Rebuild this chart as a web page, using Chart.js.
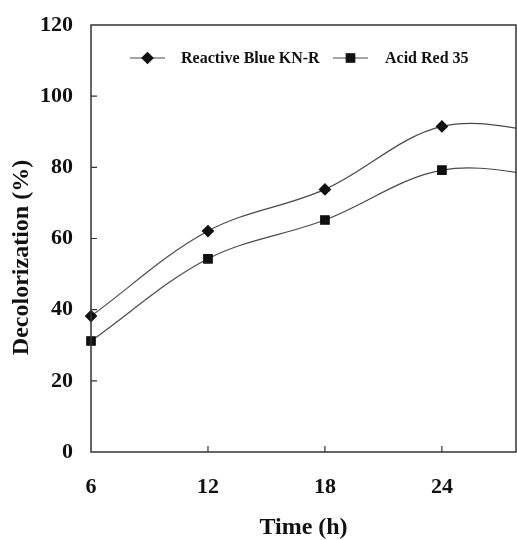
<!DOCTYPE html>
<html lang="en">
<head>
  <meta charset="UTF-8">
  <title>Decolorization vs time</title>
  <script src="https://cdn.jsdelivr.net/npm/chart.js"></script>
  <style>
    html, body { margin: 0; padding: 0; background: #fff; overflow: hidden; }
    #wrap { width: 517px; height: 540px; }
  </style>
</head>
<body>
  <div id="wrap"><canvas id="canvas_grafico"></canvas></div>
  <script>
    // hours sampled (last one lies past the visible right edge)
    const tempos = [6, 12, 18, 24, 30];
    const blueKNR = [38.2, 62.1, 73.8, 91.5, 89.5];
    const acidRed35 = [31.2, 54.3, 65.2, 79.2, 77.2];
    const yTicks = [0, 20, 40, 60, 80, 100, 120];
    const xTicks = [6, 12, 18, 24];

    const fonte = 'Liberation Serif, Times New Roman, serif';
    const corLinha = '#4a4a4a';
    const corEixo = '#333';

    function pontos(xs, ys) {
      return xs.map((x, i) => ({ x: x, y: ys[i] }));
    }

    // box + inside tick marks + y title
    const moldura = {
      id: 'moldura',
      afterDatasetsDraw(chart) {
        const { ctx, chartArea: a, scales } = chart;
        ctx.save();
        ctx.strokeStyle = corEixo;
        ctx.lineWidth = 1.5;
        ctx.strokeRect(a.left, a.top, a.right - a.left, a.bottom - a.top);
        ctx.lineWidth = 1.2;
        ctx.beginPath();
        xTicks.forEach(v => {
          const px = scales.x.getPixelForValue(v);
          if (px > a.left + 2) { ctx.moveTo(px, a.bottom); ctx.lineTo(px, a.bottom - 6); }
        });
        yTicks.forEach(v => {
          const py = scales.y.getPixelForValue(v);
          if (py > a.top + 2 && py < a.bottom - 2) { ctx.moveTo(a.left, py); ctx.lineTo(a.left + 6, py); }
        });
        ctx.stroke();

        // y axis title, a bit below the plot centre as in the original
        ctx.translate(22, (a.top + a.bottom) / 2 + 19);
        ctx.rotate(-Math.PI / 2);
        ctx.fillStyle = '#111';
        ctx.font = 'bold 24px ' + fonte;
        ctx.textAlign = 'center';
        ctx.textBaseline = 'middle';
        ctx.fillText('Decolorization (%)', 0, 0);
        ctx.restore();
      }
    };

    // legend drawn in one row inside the plot
    const legenda = {
      id: 'legenda',
      afterDraw(chart) {
        const { ctx } = chart;
        const itens = [
          { x0: 130, x1: 165, tx: 181 },
          { x0: 333, x1: 368, tx: 385 }
        ];
        const y = 58;
        ctx.save();
        chart.data.datasets.forEach((ds, i) => {
          const it = itens[i];
          ctx.strokeStyle = corLinha;
          ctx.lineWidth = 1.2;
          ctx.beginPath();
          ctx.moveTo(it.x0, y);
          ctx.lineTo(it.x1, y);
          ctx.stroke();
          ctx.fillStyle = '#111';
          ctx.strokeStyle = '#111';
          Chart.helpers.drawPoint(ctx, {
            pointStyle: ds.pointStyle, radius: ds.pointRadius[0], borderWidth: 1
          }, (it.x0 + it.x1) / 2, y);
          ctx.font = 'bold 16px ' + fonte;
          ctx.textBaseline = 'middle';
          ctx.fillText(ds.label, it.tx, y + 1);
        });
        ctx.restore();
      }
    };

    const ultimo = (n, r) => tempos.map((t, i) => (i === n ? 0 : r));

    new Chart(document.getElementById('canvas_grafico').getContext('2d'), {
      type: 'line',
      data: {
        datasets: [
          {
            label: 'Reactive Blue KN-R',
            data: pontos(tempos, blueKNR),
            borderColor: corLinha,
            borderWidth: 1.2,
            pointStyle: 'rectRot',
            pointRadius: ultimo(4, 5.5),
            pointBackgroundColor: '#111',
            pointBorderColor: '#111',
            tension: 0.35,
            clip: { left: 10, right: 0, top: 5, bottom: 5 }
          },
          {
            label: 'Acid Red 35',
            data: pontos(tempos, acidRed35),
            borderColor: corLinha,
            borderWidth: 1.2,
            pointStyle: 'rect',
            pointRadius: ultimo(4, 6),
            pointBackgroundColor: '#111',
            pointBorderColor: '#111',
            tension: 0.35,
            clip: { left: 10, right: 0, top: 5, bottom: 5 }
          }
        ]
      },
      options: {
        responsive: true,
        maintainAspectRatio: false,
        animation: false,
        layout: { autoPadding: false, padding: { top: 25, right: 1, left: 0, bottom: 0 } },
        plugins: {
          legend: { display: false },
          tooltip: { enabled: false }
        },
        scales: {
          x: {
            type: 'linear',
            min: 6,
            max: 27.8,
            grid: { display: false, drawTicks: false },
            border: { display: false },
            afterBuildTicks: s => { s.ticks = xTicks.map(v => ({ value: v })); },
            afterFit: s => { s.height = 88; s.paddingLeft = 0; s.paddingRight = 0; },
            ticks: {
              padding: 22,
              color: '#111',
              font: { family: fonte, size: 22, weight: 'bold' }
            },
            title: {
              display: true,
              text: 'Time (h)',
              color: '#111',
              padding: { top: 0, bottom: 0 },
              font: { family: fonte, size: 24, weight: 'bold', lineHeight: 1 }
            }
          },
          y: {
            min: 0,
            max: 120,
            grid: { display: false, drawTicks: false },
            border: { display: false },
            afterBuildTicks: s => { s.ticks = yTicks.map(v => ({ value: v })); },
            afterFit: s => { s.width = 91; s.paddingTop = 0; s.paddingBottom = 0; },
            ticks: {
              padding: 18,
              color: '#111',
              font: { family: fonte, size: 22, weight: 'bold' }
            }
          }
        }
      },
      plugins: [moldura, legenda]
    });
  </script>
</body>
</html>
